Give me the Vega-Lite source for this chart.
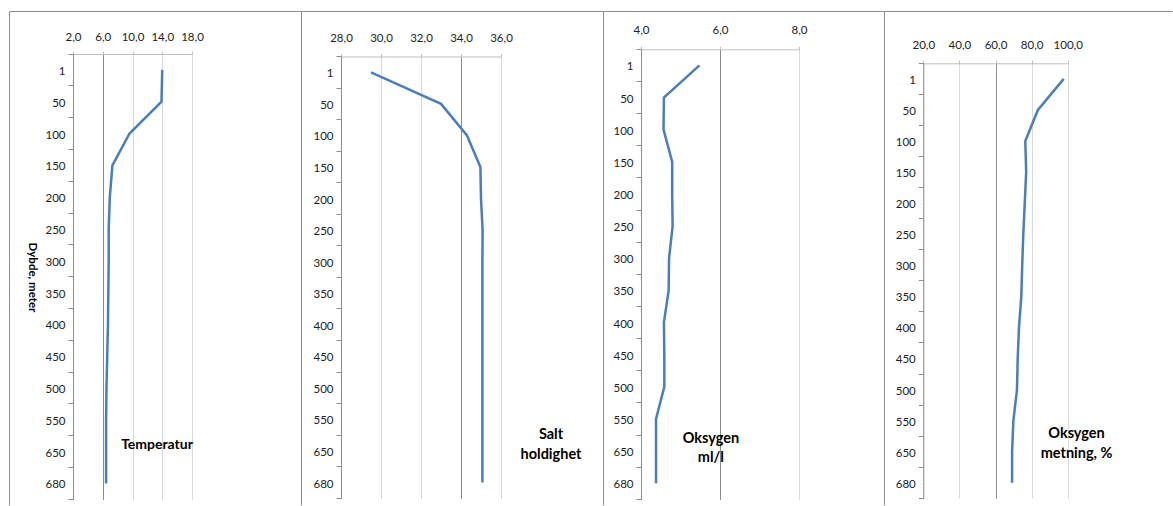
{
  "$schema": "https://vega.github.io/schema/vega-lite/v6.json",
  "padding": {"left": 8, "top": 4, "right": 0, "bottom": 0},
  "background": "white",
  "spacing": 0,
  "bounds": "flush",
  "config": {
    "view": {"stroke": "#8c8c8c"},
    "axis": {"labelFont": "Lato", "labelFontSize": 11.5, "labelColor": "#222222", "titleFont": "Lato"}
  },
  "data": {
    "values": [
      {"depth": 1, "temp": 14.0, "salt": 29.5, "oxy": 5.48, "sat": 97.8},
      {"depth": 50, "temp": 13.9, "salt": 33.0, "oxy": 4.58, "sat": 83.5},
      {"depth": 100, "temp": 9.6, "salt": 34.3, "oxy": 4.57, "sat": 76.5},
      {"depth": 150, "temp": 7.3, "salt": 34.97, "oxy": 4.79, "sat": 77.0},
      {"depth": 200, "temp": 6.95, "salt": 35.0, "oxy": 4.79, "sat": 76.2},
      {"depth": 250, "temp": 6.8, "salt": 35.08, "oxy": 4.8, "sat": 75.4},
      {"depth": 300, "temp": 6.8, "salt": 35.07, "oxy": 4.71, "sat": 74.8},
      {"depth": 350, "temp": 6.75, "salt": 35.07, "oxy": 4.7, "sat": 74.3},
      {"depth": 400, "temp": 6.7, "salt": 35.07, "oxy": 4.58, "sat": 73.0},
      {"depth": 450, "temp": 6.6, "salt": 35.07, "oxy": 4.59, "sat": 72.3},
      {"depth": 500, "temp": 6.5, "salt": 35.07, "oxy": 4.59, "sat": 71.9},
      {"depth": 550, "temp": 6.45, "salt": 35.07, "oxy": 4.38, "sat": 69.9},
      {"depth": 650, "temp": 6.45, "salt": 35.07, "oxy": 4.38, "sat": 69.2},
      {"depth": 680, "temp": 6.45, "salt": 35.07, "oxy": 4.38, "sat": 69.2}
    ]
  },
  "hconcat": [
    {
      "width": 292, "height": 494,
      "view": {"stroke": "#8c8c8c", "strokeDash": [292, 786, 494]},
      "layer": [
        {
          "mark": {"type": "line", "color": "#4a7ebb", "strokeWidth": 2.5},
          "encoding": {
            "x": {"field": "temp", "type": "quantitative",
              "scale": {"domain": [2, 18], "range": [64, 183], "zero": false, "nice": false},
              "axis": {"orient": "top", "offset": -43, "values": [2, 6, 10, 14, 18], "title": null,
                "labelExpr": "replace(format(datum.value, '.1f'), '.', ',')",
                "grid": true, "gridColor": {"condition": {"test": "datum.value === 6", "value": "#8c8c8c"}, "value": "#d9d9d9"},
                "domainColor": "#bfbfbf", "tickColor": "#bfbfbf", "tickSize": 3, "labelPadding": 8.3, "labelFlush": false, "labelOverlap": false}},
            "y": {"field": "depth", "type": "ordinal",
              "scale": {"type": "band", "domain": [1, 50, 100, 150, 200, 250, 300, 350, 400, 450, 500, 550, 650, 680], "range": [43, 488.3], "paddingInner": 0, "paddingOuter": 0},
              "axis": {"orient": "left", "offset": -64, "bandPosition": 1, "tickExtra": true, "tickSize": 5, "labelPadding": 3, "labelOffset": 2,
                "domainColor": "#8c8c8c", "tickColor": "#8c8c8c", "grid": false,
                "title": "Dybde, meter", "titleAngle": 90, "titleX": -42, "titleY": 266, "titleAlign": "center", "titleBaseline": "middle",
                "titleFontSize": 11.5, "titleFontWeight": "bold", "titleColor": "#000000"}},
            "order": {"field": "depth", "type": "quantitative"}
          }
        },
        {
          "data": {"values": [{"label": "Temperatur"}]},
          "mark": {"type": "text", "font": "Lato", "fontWeight": "bold", "fontSize": 14, "align": "center", "baseline": "middle", "dy": -6.6, "color": "#000000"},
          "encoding": {
            "x": {"datum": 13.3},
            "y": {"datum": 650, "type": "ordinal"},
            "text": {"field": "label"}
          }
        }
      ]
    },
    {
      "width": 302, "height": 494,
      "view": {"stroke": "#8c8c8c", "strokeDash": [302, 796, 494]},
      "layer": [
        {
          "mark": {"type": "line", "color": "#4a7ebb", "strokeWidth": 2.5},
          "encoding": {
            "x": {"field": "salt", "type": "quantitative",
              "scale": {"domain": [28, 36], "range": [40, 200], "zero": false, "nice": false},
              "axis": {"orient": "top", "offset": -45.5, "values": [28, 30, 32, 34, 36], "title": null,
                "labelExpr": "replace(format(datum.value, '.1f'), '.', ',')",
                "grid": true, "gridColor": {"condition": {"test": "datum.value === 34", "value": "#8c8c8c"}, "value": "#d9d9d9"},
                "domainColor": "#bfbfbf", "tickColor": "#bfbfbf", "tickSize": 3, "labelPadding": 9.8, "labelFlush": false, "labelOverlap": false}},
            "y": {"field": "depth", "type": "ordinal",
              "scale": {"type": "band", "domain": [1, 50, 100, 150, 200, 250, 300, 350, 400, 450, 500, 550, 650, 680], "range": [45.5, 487.3], "paddingInner": 0, "paddingOuter": 0},
              "axis": {"orient": "left", "offset": -40, "bandPosition": 1, "tickExtra": true, "tickSize": 5, "labelPadding": 3, "labelOffset": 2,
                "domainColor": "#8c8c8c", "tickColor": "#8c8c8c", "grid": false, "title": null}},
            "order": {"field": "depth", "type": "quantitative"}
          }
        },
        {
          "data": {"values": [{"label": "Salt|holdighet"}]},
          "mark": {"type": "text", "font": "Lato", "fontWeight": "bold", "fontSize": 14.5, "align": "center", "baseline": "middle", "lineBreak": "|", "lineHeight": 19.3, "dy": -15.7, "color": "#000000"},
          "encoding": {
            "x": {"datum": 38.5},
            "y": {"datum": 650, "type": "ordinal"},
            "text": {"field": "label"}
          }
        }
      ]
    },
    {
      "width": 281, "height": 494,
      "view": {"stroke": "#8c8c8c", "strokeDash": [281, 775, 494]},
      "layer": [
        {
          "mark": {"type": "line", "color": "#4a7ebb", "strokeWidth": 2.5},
          "encoding": {
            "x": {"field": "oxy", "type": "quantitative",
              "scale": {"domain": [4, 8], "range": [38, 196], "zero": false, "nice": false},
              "axis": {"orient": "top", "offset": -38.3, "values": [4, 6, 8], "title": null,
                "labelExpr": "replace(format(datum.value, '.1f'), '.', ',')",
                "grid": true, "gridColor": {"condition": {"test": "datum.value === 6", "value": "#8c8c8c"}, "value": "#d9d9d9"},
                "domainColor": "#bfbfbf", "tickColor": "#bfbfbf", "tickSize": 3, "labelPadding": 11, "labelFlush": false, "labelOverlap": false}},
            "y": {"field": "depth", "type": "ordinal",
              "scale": {"type": "band", "domain": [1, 50, 100, 150, 200, 250, 300, 350, 400, 450, 500, 550, 650, 680], "range": [38.3, 488.3], "paddingInner": 0, "paddingOuter": 0},
              "axis": {"orient": "left", "offset": -38, "bandPosition": 1, "tickExtra": true, "tickSize": 5, "labelPadding": 3, "labelOffset": 2,
                "domainColor": "#8c8c8c", "tickColor": "#8c8c8c", "grid": false, "title": null}},
            "order": {"field": "depth", "type": "quantitative"}
          }
        },
        {
          "data": {"values": [{"label": "Oksygen|ml/l"}]},
          "mark": {"type": "text", "font": "Lato", "fontWeight": "bold", "fontSize": 14.5, "align": "center", "baseline": "middle", "lineBreak": "|", "lineHeight": 19, "dy": -11.6, "color": "#000000"},
          "encoding": {
            "x": {"datum": 5.77},
            "y": {"datum": 650, "type": "ordinal"},
            "text": {"field": "label"}
          }
        }
      ]
    },
    {
      "width": 288, "height": 494,
      "view": {"stroke": "#8c8c8c", "strokeDash": [288, 782, 494]},
      "layer": [
        {
          "mark": {"type": "line", "color": "#4a7ebb", "strokeWidth": 2.5},
          "encoding": {
            "x": {"field": "sat", "type": "quantitative",
              "scale": {"domain": [20, 100], "range": [39.3, 183.7], "zero": false, "nice": false},
              "axis": {"orient": "top", "offset": -52.3, "values": [20, 40, 60, 80, 100], "title": null,
                "labelExpr": "replace(format(datum.value, '.1f'), '.', ',')",
                "grid": true, "gridColor": {"condition": {"test": "datum.value === 60", "value": "#8c8c8c"}, "value": "#d9d9d9"},
                "domainColor": "#bfbfbf", "tickColor": "#bfbfbf", "tickSize": 3, "labelPadding": 10, "labelFlush": false, "labelOverlap": false}},
            "y": {"field": "depth", "type": "ordinal",
              "scale": {"type": "band", "domain": [1, 50, 100, 150, 200, 250, 300, 350, 400, 450, 500, 550, 650, 680], "range": [52.3, 487.3], "paddingInner": 0, "paddingOuter": 0},
              "axis": {"orient": "left", "offset": -39.3, "bandPosition": 1, "tickExtra": true, "tickSize": 5, "labelPadding": 3, "labelOffset": 2,
                "domainColor": "#8c8c8c", "tickColor": "#8c8c8c", "grid": false, "title": null}},
            "order": {"field": "depth", "type": "quantitative"}
          }
        },
        {
          "data": {"values": [{"label": "Oksygen|metning, %"}]},
          "mark": {"type": "text", "font": "Lato", "fontWeight": "bold", "fontSize": 14.5, "align": "center", "baseline": "middle", "lineBreak": "|", "lineHeight": 19.3, "dy": -17.4, "color": "#000000"},
          "encoding": {
            "x": {"datum": 104.9},
            "y": {"datum": 650, "type": "ordinal"},
            "text": {"field": "label"}
          }
        }
      ]
    }
  ]
}
